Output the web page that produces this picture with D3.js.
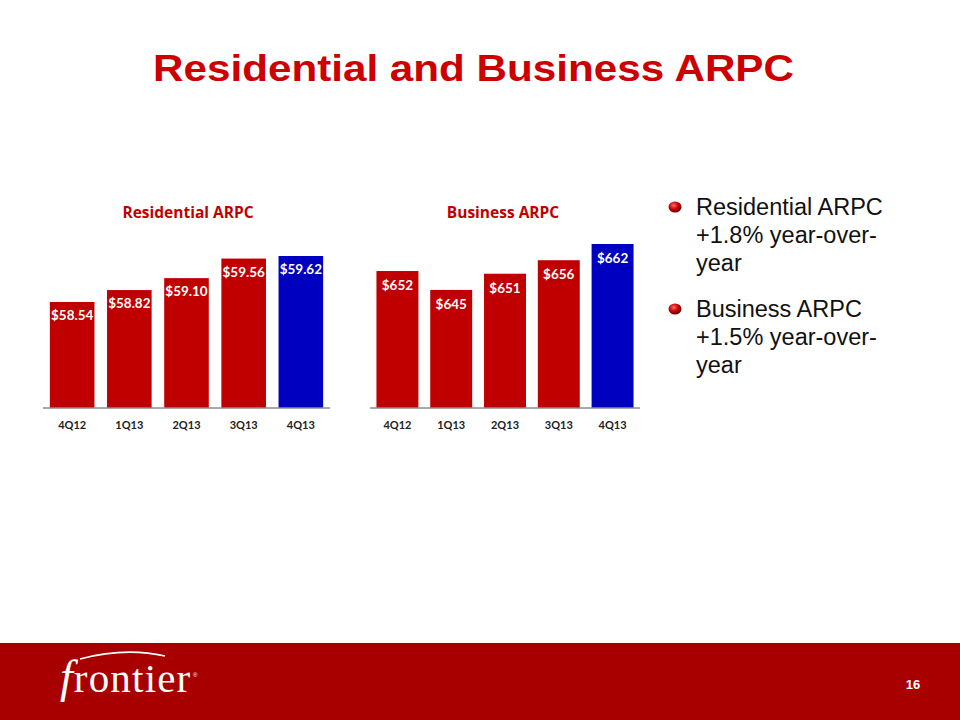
<!DOCTYPE html>
<html>
<head>
<meta charset="utf-8">
<script src="https://cdn.jsdelivr.net/npm/d3@7"></script>
<style>
  html, body { margin: 0; padding: 0; background: #fff; }
  svg { display: block; }
</style>
</head>
<body>
<div id="chart"></div>
<script>
// slide data
const quarters = ["4Q12", "1Q13", "2Q13", "3Q13", "4Q13"];
const residentialArpc = [58.54, 58.82, 59.10, 59.56, 59.62];
const businessArpc = [652, 645, 651, 656, 662];
const residentialLabels = ["$58.54", "$58.82", "$59.10", "$59.56", "$59.62"];
const businessLabels = ["$652", "$645", "$651", "$656", "$662"];
const bullets = [
  ["Residential ARPC", "+1.8% year-over-", "year"],
  ["Business ARPC", "+1.5% year-over-", "year"]
];

const W = 960, H = 720;
const RED = "#c00000", BLUE = "#0000c0", TITLE_RED = "#cc0000";

const svg = d3.select("#chart").append("svg")
  .attr("width", W).attr("height", H);

// main title (slide font is a bit wider than Arial, so stretch it)
svg.append("text")
  .attr("x", 153).attr("y", 81)
  .attr("textLength", 641)
  .attr("lengthAdjust", "spacingAndGlyphs")
  .attr("font-family", "Liberation Sans, Arial, sans-serif")
  .attr("font-weight", "bold")
  .attr("font-size", 37)
  .attr("fill", TITLE_RED)
  .text("Residential and Business ARPC");

// one small bar panel
function panel(opts) {
  const g = svg.append("g");
  const x = d3.scaleBand().domain(quarters)
    .range([opts.x0, opts.x1]).paddingInner(0.22).paddingOuter(0.12);
  const y = d3.scaleLinear().domain(opts.domain).range([408, 408 - opts.pxRange]);

  g.append("text")
    .attr("x", opts.titleX).attr("y", 218)
    .attr("text-anchor", "middle")
    .attr("font-family", "'Open Sans', Lato, sans-serif")
    .attr("font-weight", "bold")
    .attr("font-size", 15.5)
    .attr("fill", RED)
    .text(opts.title);

  g.selectAll("rect").data(opts.values).join("rect")
    .attr("x", (d, i) => x(quarters[i]))
    .attr("width", x.bandwidth())
    .attr("y", d => y(d))
    .attr("height", d => 408 - y(d))
    .attr("fill", (d, i) => i === quarters.length - 1 ? BLUE : RED);

  g.selectAll("text.val").data(opts.values).join("text")
    .attr("class", "val")
    .attr("x", (d, i) => x(quarters[i]) + x.bandwidth() / 2)
    .attr("y", d => y(d) + opts.labelDy)
    .attr("text-anchor", "middle")
    .attr("font-family", "Lato, 'Open Sans', sans-serif")
    .attr("font-weight", "bold")
    .attr("font-size", 13.5)
    .attr("fill", "#fff")
    .text((d, i) => opts.labels[i]);

  const axis = g.append("g")
    .attr("transform", "translate(0,408)")
    .call(d3.axisBottom(x).tickSize(0).tickPadding(13));
  axis.select(".domain")
    .attr("d", `M${opts.x0},0H${opts.x1}`)
    .attr("stroke", "#8c8c8c").attr("stroke-width", 1.5);
  axis.selectAll("text")
    .attr("font-family", "Lato, 'Open Sans', sans-serif")
    .attr("font-weight", "bold")
    .attr("font-size", 11)
    .attr("fill", "#222");
}

panel({ x0: 43, x1: 330, domain: [56.05, 59.62], pxRange: 152, labelDy: 18, titleX: 188,
  values: residentialArpc, labels: residentialLabels, title: "Residential ARPC" });
panel({ x0: 370, x1: 640, domain: [601.3, 662], pxRange: 164, labelDy: 19, titleX: 503,
  values: businessArpc, labels: businessLabels, title: "Business ARPC" });

// bullet list
const defs = svg.append("defs");
const grad = defs.append("radialGradient").attr("id", "dot")
  .attr("cx", "40%").attr("cy", "35%").attr("r", "65%");
grad.append("stop").attr("offset", "0%").attr("stop-color", "#ff6a5a");
grad.append("stop").attr("offset", "55%").attr("stop-color", "#c8000a");
grad.append("stop").attr("offset", "100%").attr("stop-color", "#6a0000");

const bl = svg.append("g");
bullets.forEach((lines, bi) => {
  const base = 215 + bi * 102;
  bl.append("ellipse")
    .attr("cx", 675).attr("cy", base - 8)
    .attr("rx", 6.5).attr("ry", 5.5)
    .attr("fill", "url(#dot)");
  lines.forEach((t, li) => {
    bl.append("text")
      .attr("x", 696).attr("y", base + li * 28)
      .attr("font-family", "Liberation Sans, Arial, sans-serif")
      .attr("font-size", 23.5)
      .attr("fill", "#111")
      .text(t);
  });
});

// footer band
svg.append("rect")
  .attr("x", 0).attr("y", 643).attr("width", W).attr("height", H - 643)
  .attr("fill", "#a80000");
svg.append("path")
  .attr("d", "M80,659 Q125,647 165,656")
  .attr("fill", "none").attr("stroke", "#fff").attr("stroke-width", 1.6);
const logo = svg.append("text")
  .attr("x", 60).attr("y", 692)
  .attr("font-family", "'Liberation Serif', 'DejaVu Serif', serif")
  .attr("font-size", 41)
  .attr("fill", "#fff");
logo.append("tspan").attr("font-style", "italic").attr("font-size", 46).text("f");
logo.append("tspan").attr("dx", 1).attr("letter-spacing", 1.2).text("rontier");
svg.append("text")
  .attr("x", 193).attr("y", 677)
  .attr("font-family", "Liberation Sans, Arial, sans-serif")
  .attr("font-size", 6)
  .attr("fill", "#fff")
  .text("®");
svg.append("text")
  .attr("x", 913).attr("y", 689)
  .attr("text-anchor", "middle")
  .attr("font-family", "Liberation Sans, Arial, sans-serif")
  .attr("font-weight", "bold")
  .attr("font-size", 13)
  .attr("fill", "#fff")
  .text("16");
</script>
</body>
</html>
